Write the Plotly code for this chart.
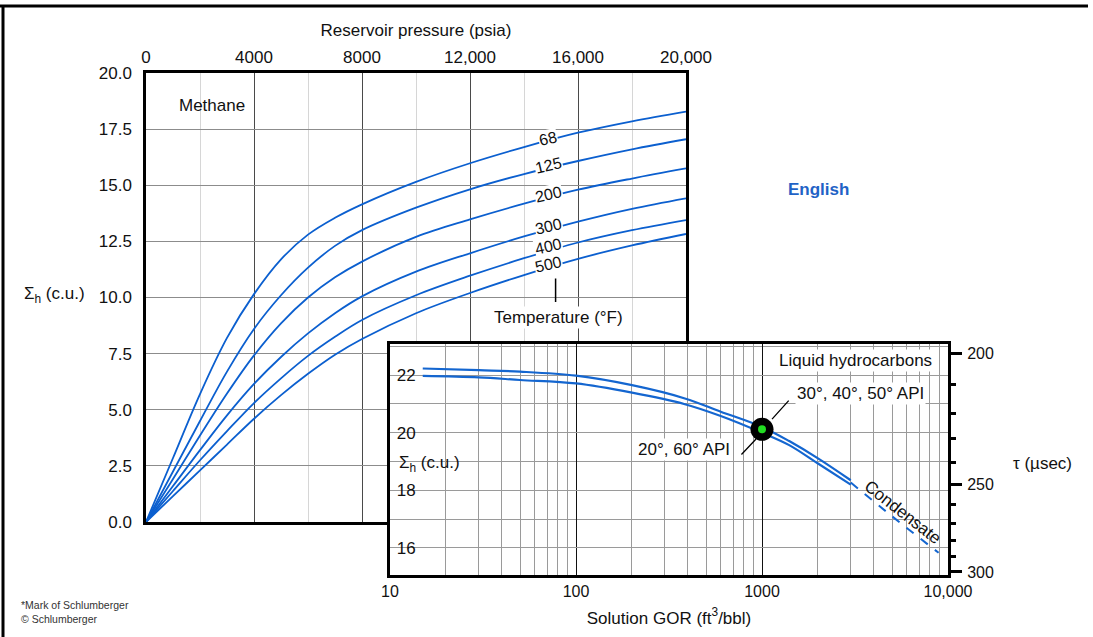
import plotly.graph_objects as go

# ---------------- data ----------------
pressure = [0, 1000, 2000, 3000, 4000, 5000, 6000, 7000, 8000, 10000, 12000, 14000, 16000, 18000, 20000]
temps = ["68", "125", "200", "300", "400", "500"]
sigma_68 = [0, 2.85, 5.7, 8.2, 10.15, 11.7, 12.8, 13.55, 14.15, 15.15, 15.98, 16.7, 17.34, 17.85, 18.28]
sigma_125 = [0, 2.25, 4.5, 6.7, 8.6, 10.1, 11.33, 12.3, 13.0, 14.0, 14.82, 15.5, 16.08, 16.6, 17.05]
sigma_200 = [0, 1.92, 3.85, 5.72, 7.42, 8.85, 10.0, 10.9, 11.6, 12.7, 13.48, 14.18, 14.8, 15.3, 15.75]
sigma_300 = [0, 1.6, 3.2, 4.75, 6.15, 7.35, 8.4, 9.3, 10.05, 11.15, 11.97, 12.72, 13.38, 13.95, 14.42]
sigma_400 = [0, 1.38, 2.75, 4.05, 5.3, 6.4, 7.4, 8.25, 9.0, 10.1, 10.97, 11.75, 12.45, 13.0, 13.45]
sigma_500 = [0, 1.15, 2.3, 3.45, 4.6, 5.65, 6.6, 7.45, 8.15, 9.3, 10.2, 11.0, 11.72, 12.32, 12.83]
label_x = 14900
label_y = [17.09, 15.9, 14.61, 13.18, 12.25, 11.45]

gor = [15, 30, 50, 100, 200, 385, 600, 1000, 1400, 2000, 3000]
sigma_api_30_50 = [22.23, 22.17, 22.12, 21.98, 21.65, 21.19, 20.73, 20.2, 19.71, 19.11, 18.35]
sigma_api_20_60 = [21.97, 21.92, 21.83, 21.71, 21.39, 20.99, 20.58, 20.0, 19.57, 18.93, 18.2]
gor_condensate = [3000, 5000, 8900]
sigma_condensate = [18.27, 17.1, 15.83]
dot_gor = [1000]
dot_sigma = [20.12]

x_top_ticks = [0, 4000, 8000, 12000, 16000, 20000]
x_top_text = ["0", "4000", "8000", "12,000", "16,000", "20,000"]
y_main_ticks = [0, 2.5, 5, 7.5, 10, 12.5, 15, 17.5, 20]
y_main_text = ["0.0", "2.5", "5.0", "7.5", "10.0", "12.5", "15.0", "17.5", "20.0"]
gor_ticks = [10, 100, 1000, 10000]
gor_text = ["10", "100", "1000", "10,000"]
inset_sigma_ticks = [16, 18, 20, 22]
tau_major = [200, 250, 300]
tau_minor = [210, 220, 230, 240, 260, 270, 280, 290]

FONT = "Arial, 'Liberation Sans', sans-serif"
BLUE = "#0b5fcf"

fig = go.Figure()

main_series = [sigma_68, sigma_125, sigma_200, sigma_300, sigma_400, sigma_500]
for t, s in zip(temps, main_series):
    fig.add_trace(go.Scatter(x=pressure, y=s, mode="lines", name=t + " °F",
                             line=dict(color=BLUE, width=1.8, shape="spline", smoothing=1.0),
                             xaxis="x", yaxis="y", showlegend=False, hoverinfo="skip"))

# inset traces
fig.add_trace(go.Scatter(x=gor, y=sigma_api_30_50, mode="lines", line=dict(color="#1466d0", width=2.2, shape="spline"),
                         xaxis="x2", yaxis="y2", showlegend=False))
fig.add_trace(go.Scatter(x=gor, y=sigma_api_20_60, mode="lines", line=dict(color="#1466d0", width=2.2, shape="spline"),
                         xaxis="x2", yaxis="y2", showlegend=False))
fig.add_trace(go.Scatter(x=gor_condensate, y=sigma_condensate, mode="lines",
                         line=dict(color="#1466d0", width=2, dash="dash", shape="spline"),
                         xaxis="x2", yaxis="y2", showlegend=False))
fig.add_trace(go.Scatter(x=dot_gor, y=dot_sigma, mode="markers",
                         marker=dict(size=23, color="black"), xaxis="x2", yaxis="y2", showlegend=False))
fig.add_trace(go.Scatter(x=dot_gor, y=dot_sigma, mode="markers",
                         marker=dict(size=8, color="#22dd22"), xaxis="x2", yaxis="y2", showlegend=False))
# invisible traces so the right-hand tau axes get drawn
for ya in ("y3", "y4"):
    fig.add_trace(go.Scatter(x=dot_gor, y=dot_sigma, mode="markers", marker=dict(size=1, opacity=0),
                             xaxis="x2", yaxis=ya, showlegend=False, hoverinfo="skip"))

main_dom_x = [146 / 1093, 686 / 1093]
main_dom_y = [1 - 522 / 637, 1 - 73 / 637]
ins_dom_x = [390 / 1093, 948 / 1093]
ins_dom_y = [1 - 575 / 637, 1 - 344 / 637]

ins_range = [15.06, 23.08]
gor_minor = [m * d for d in (10, 100, 1000) for m in range(2, 10)]

fig.update_layout(
    width=1093, height=637, template="none",
    margin=dict(l=0, r=0, t=0, b=0),
    paper_bgcolor="white", plot_bgcolor="white",
    font=dict(family=FONT, color="#111", size=17),
    xaxis=dict(domain=main_dom_x, range=[0, 20000], side="top", anchor="y",
               tickvals=x_top_ticks, ticktext=x_top_text, ticks="", ticklabelstandoff=0,
               showgrid=True, gridcolor="#4a4a4a", gridwidth=1.3,
               minor=dict(dtick=2000, showgrid=True, gridcolor="#d6d6d6", gridwidth=1),
               showline=True, linecolor="black", linewidth=2.5, mirror=True, zeroline=False,
               title=dict(text="Reservoir pressure (psia)", font=dict(size=17), standoff=8),
               automargin=False, tickfont=dict(size=17)),
    yaxis=dict(domain=main_dom_y, range=[0, 20], anchor="x",
               tickvals=y_main_ticks, ticktext=y_main_text, ticks="", ticklabelstandoff=8,
               showgrid=True, gridcolor="#8c8c8c", gridwidth=1.3,
               showline=True, linecolor="black", linewidth=2.5, mirror=True, zeroline=False,
               automargin=False, tickfont=dict(size=17)),
    xaxis2=dict(domain=ins_dom_x, type="log", range=[1, 4], anchor="y2",
                tickvals=gor_ticks, ticktext=gor_text, ticks="", ticklabelstandoff=0,
                showgrid=True, gridcolor="#111", gridwidth=1.2,
                minor=dict(tickvals=gor_minor, showgrid=True, gridcolor="#9a9a9a", gridwidth=1, ticks=""),
                showline=True, linecolor="black", linewidth=3, mirror=True, zeroline=False,
                title=dict(text="Solution GOR (ft<sup>3</sup>/bbl)", font=dict(size=17), standoff=13),
                automargin=False, tickfont=dict(size=16)),
    yaxis2=dict(domain=ins_dom_y, range=ins_range, anchor="x2",
                tickvals=inset_sigma_ticks, ticks="", ticklabelstandoff=-32,
                showgrid=True, gridcolor="#9a9a9a", gridwidth=1,
                minor=dict(dtick=1, showgrid=True, gridcolor="#9a9a9a", gridwidth=1),
                showline=True, linecolor="black", linewidth=3, mirror=True, zeroline=False,
                automargin=False, tickfont=dict(size=17)),
    yaxis3=dict(overlaying="y2", anchor="x2", side="right", range=ins_range,
                tickvals=[4550 / t for t in tau_major], ticktext=[str(t) for t in tau_major],
                ticks="outside", ticklen=13, tickwidth=2.5, tickcolor="black", ticklabelstandoff=2,
                showgrid=False, zeroline=False, showline=False, automargin=False, tickfont=dict(size=16)),
    yaxis4=dict(overlaying="y2", anchor="x2", side="right", range=ins_range,
                tickvals=[4550 / t for t in tau_minor], ticktext=["" for _ in tau_minor],
                ticks="outside", ticklen=7, tickwidth=2.5, tickcolor="black",
                showgrid=False, zeroline=False, showline=False, automargin=False),
)

ann = []
# curve temperature labels
for t, yv in zip(temps, label_y):
    ann.append(dict(x=label_x, y=yv, xref="x", yref="y", text=t, showarrow=False, textangle=-13,
                    bgcolor="white", borderpad=0, font=dict(size=16, color="#111")))
ann.append(dict(x=2440, y=18.57, xref="x", yref="y", text="Methane", showarrow=False, font=dict(size=17)))
ann.append(dict(x=15260, y=9.13, xref="x", yref="y", text="Temperature (°F)", showarrow=False,
                bgcolor="white", font=dict(size=17)))
ann.append(dict(x=15170, y=9.8, xref="x", yref="y", text="", showarrow=True, arrowhead=0,
                arrowwidth=1.5, arrowcolor="black", ax=0, ay=-25))
# main y title
ann.append(dict(x=22 / 1093, y=1 - 295 / 637, xref="paper", yref="paper", xanchor="left", yanchor="middle",
                text="Σ<sub>h</sub> (c.u.)", showarrow=False, font=dict(size=17)))
ann.append(dict(x=818 / 1093, y=1 - 189 / 637, xref="paper", yref="paper", xanchor="center", yanchor="middle",
                text="<b>English</b>", showarrow=False, font=dict(size=17, color="#1f63c6")))
ann.append(dict(x=19 / 1093, y=1 - 612 / 637, xref="paper", yref="paper", xanchor="left", yanchor="middle",
                text="*Mark of Schlumberger<br>© Schlumberger", align="left", showarrow=False,
                font=dict(size=10.5, color="#333")))
# inset annotations (log x => log10 coordinates)
ann.append(dict(x=3.925, y=22.5, xref="x2", yref="y2", xanchor="right", text="Liquid hydrocarbons",
                showarrow=False, font=dict(size=17), bgcolor="white"))
ann.append(dict(x=3.532, y=21.375, xref="x2", yref="y2", text="30°, 40°, 50° API", showarrow=False,
                font=dict(size=17), bgcolor="white"))
ann.append(dict(x=2.581, y=19.42, xref="x2", yref="y2", text="20°, 60° API", showarrow=False,
                font=dict(size=17), bgcolor="white"))
ann.append(dict(x=3.054, y=20.47, xref="x2", yref="y2", text="", showarrow=True, arrowhead=0,
                arrowwidth=1.3, arrowcolor="black", ax=18, ay=-20))
ann.append(dict(x=2.968, y=19.78, xref="x2", yref="y2", text="", showarrow=True, arrowhead=0,
                arrowwidth=1.3, arrowcolor="black", ax=-16, ay=17))
ann.append(dict(x=3.758, y=17.24, xref="x2", yref="y2", text="Condensate", showarrow=False,
                textangle=38, font=dict(size=17)))
ann.append(dict(x=1.035, y=18.9, xref="x2", yref="y2", xanchor="left", text="Σ<sub>h</sub> (c.u.)",
                showarrow=False, font=dict(size=17)))
ann.append(dict(x=1042 / 1093, y=1 - 463 / 637, xref="paper", yref="paper", xanchor="center", yanchor="middle",
                text="τ (µsec)", showarrow=False, font=dict(size=17)))
fig.update_layout(annotations=ann)

# outer frame lines of the figure
fig.update_layout(shapes=[
    dict(type="line", xref="paper", yref="paper", x0=0, x1=1088 / 1093, y0=1 - 6 / 637, y1=1 - 6 / 637,
         line=dict(color="black", width=3)),
    dict(type="line", xref="paper", yref="paper", x0=3 / 1093, x1=3 / 1093, y0=0, y1=1 - 6 / 637,
         line=dict(color="black", width=3)),
])

fig.write_html("out.html")
